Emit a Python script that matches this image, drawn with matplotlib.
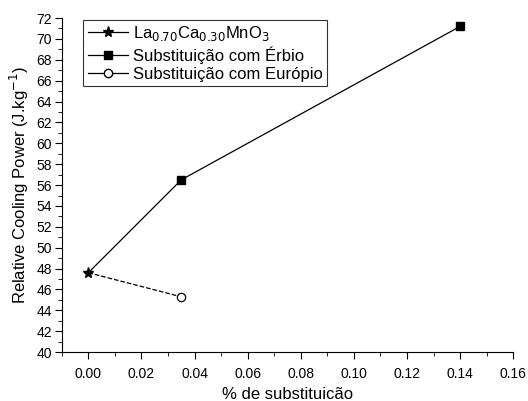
import numpy as np
import matplotlib
matplotlib.use("Agg")
import matplotlib.pyplot as plt
from matplotlib.ticker import MultipleLocator

plt.rcParams['font.family'] = ['Liberation Sans', 'DejaVu Sans']

# data
x_la = [0.0]
y_la = [47.6]
x_er = [0.0, 0.035, 0.14]
y_er = [47.6, 56.5, 71.2]
x_eu = [0.0, 0.035]
y_eu = [47.6, 45.3]

fig = plt.figure(figsize=(5.28, 4.01), dpi=100)
ax = fig.add_axes([0.117, 0.122, 0.855, 0.833])

ax.plot(x_er, y_er, '-', color='black', lw=0.9, marker='s', ms=6,
        markevery=[1, 2])
ax.plot(x_eu, y_eu, '--', color='black', lw=0.9, zorder=2)
ax.plot(x_eu[1:], y_eu[1:], 'o', color='black', mfc='white', ms=6, mew=0.9)
ax.plot(x_la, y_la, '*', color='black', ms=8, zorder=4)

# legend proxies
h1, = ax.plot([], [], '-', color='black', lw=0.9, marker='*', ms=8)
h2, = ax.plot([], [], '-', color='black', lw=0.9, marker='s', ms=6)
h3, = ax.plot([], [], '-', color='black', lw=0.9, marker='o', mfc='white', ms=6)
leg = ax.legend([h1, h2, h3],
                [r"La$_{0.70}$Ca$_{0.30}$MnO$_{3}$", "Substituição com Érbio",
                 "Substituição com Európio"],
                loc='upper left', bbox_to_anchor=(0.048, 0.995), fontsize=12,
                frameon=True, fancybox=False, edgecolor='black',
                handlelength=2.4, handletextpad=0.3, borderpad=0.25,
                labelspacing=0.2, borderaxespad=0)
leg.get_frame().set_linewidth(0.8)

ax.set_xlim(-0.01, 0.16)
ax.set_ylim(40, 72)
ax.xaxis.set_major_locator(MultipleLocator(0.02))
ax.xaxis.set_minor_locator(MultipleLocator(0.01))
ax.yaxis.set_major_locator(MultipleLocator(2))
ax.yaxis.set_minor_locator(MultipleLocator(1))
ax.xaxis.set_major_formatter(matplotlib.ticker.FormatStrFormatter('%.2f'))
ax.spines['top'].set_visible(False)
ax.spines['right'].set_visible(False)
ax.tick_params(which='both', direction='out', labelsize=10)
ax.tick_params(axis='x', which='major', length=5, pad=6)
ax.tick_params(axis='y', which='major', length=5, pad=2)
ax.tick_params(which='minor', length=3)

ax.set_xlabel("% de substituicão", fontsize=12, labelpad=4)
ax.set_ylabel(r"Relative Cooling Power (J.kg$^{-1}$)", fontsize=12, labelpad=4)

fig.savefig("out.png", dpi=100)
